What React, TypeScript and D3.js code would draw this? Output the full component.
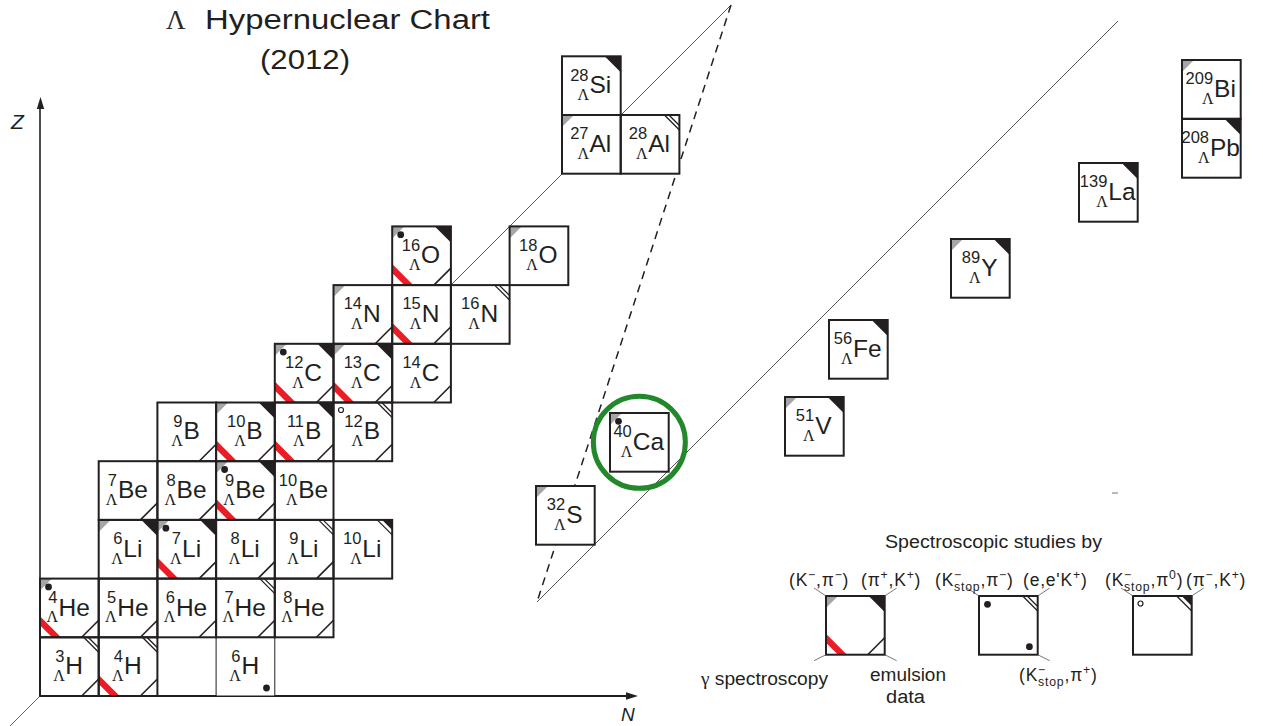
import React from 'react';
import * as d3 from 'd3';

const W = 1263;
const H = 726;
const CELL = 58.7;

// Measurement flags per hypernucleus:
// g (K-,pi-)  k (pi+,K+)  d (K-stop,pi-)  o (K-stop,pi0)  h (e,e'K+)
// m (pi-,K+)  p (K-stop,pi+)  r gamma spectroscopy  e emulsion data  t tentative
// Each entry: [mass number A, element, proton number Z, flags]; core neutrons N = A - 1 - Z
const lightNuclei: [number, string, number, string][] = [
  [3, 'H', 1, 'he'],
  [4, 'H', 1, 'hre'],
  [6, 'H', 1, 'pt'],
  [4, 'He', 2, 'gdre'],
  [5, 'He', 2, 'e'],
  [6, 'He', 2, 'e'],
  [7, 'He', 2, 'he'],
  [8, 'He', 2, 'e'],
  [6, 'Li', 3, 'gk'],
  [7, 'Li', 3, 'gdkre'],
  [8, 'Li', 3, 'e'],
  [9, 'Li', 3, 'he'],
  [10, 'Li', 3, 'm'],
  [7, 'Be', 4, 'e'],
  [8, 'Be', 4, 'e'],
  [9, 'Be', 4, 'gdkre'],
  [10, 'Be', 4, ''],
  [9, 'B', 5, 'e'],
  [10, 'B', 5, 'gkre'],
  [11, 'B', 5, 'kre'],
  [12, 'B', 5, 'ohe'],
  [12, 'C', 6, 'gdkre'],
  [13, 'C', 6, 'gkre'],
  [14, 'C', 6, 'e'],
  [14, 'N', 7, 'ge'],
  [15, 'N', 7, 're'],
  [16, 'N', 7, 'h'],
  [16, 'O', 8, 'gdkre'],
  [18, 'O', 8, 'g'],
];

const sdNuclei: [number, string, number, string][] = [
  [28, 'Si', 14, 'k'],
  [27, 'Al', 13, 'g'],
  [28, 'Al', 13, 'h'],
];

const midNuclei: [number, string, number, string][] = [
  [32, 'S', 16, 'g'],
  [40, 'Ca', 20, 'gd'],
];

const heavyNuclei: [number, string, number, string][] = [
  [51, 'V', 23, 'gk'],
  [56, 'Fe', 26, 'k'],
  [89, 'Y', 39, 'gk'],
  [139, 'La', 57, 'k'],
  [208, 'Pb', 82, 'k'],
  [209, 'Bi', 83, 'g'],
];

const circledNucleus: [number, string] = [40, 'Ca'];

// Legend: three sample boxes and their reaction labels
const legendFlags = ['gkre', 'dhp', 'om'];
type Part = [string, string];
const labelKPiMinus: Part[] = [['n', '(K'], ['sup', '−'], ['n', ',π'], ['sup', '−'], ['n', ')']];
const labelPiPlusK: Part[] = [['n', '(π'], ['sup', '+'], ['n', ',K'], ['sup', '+'], ['n', ')']];
const labelKstopPiMinus: Part[] = [['n', '(K'], ['sup', '−'], ['sub', 'stop'], ['n', ',π'], ['sup', '−'], ['n', ')']];
const labelEEK: Part[] = [['n', "(e,e'K"], ['sup', '+'], ['n', ')']];
const labelKstopPiZero: Part[] = [['n', '(K'], ['sup', '−'], ['sub', 'stop'], ['n', ',π'], ['sup', '0'], ['n', ')']];
const labelPiMinusK: Part[] = [['n', '(π'], ['sup', '−'], ['n', ',K'], ['sup', '+'], ['n', ')']];
const labelKstopPiPlus: Part[] = [['n', '(K'], ['sup', '−'], ['sub', 'stop'], ['n', ',π'], ['sup', '+'], ['n', ')']];

const INK = '#231f20';
const GRAY = '#a6a6a6';
const RED = '#ed1c24';
const SANS = '"Liberation Sans", Arial, Helvetica, sans-serif';
const SERIF = '"Liberation Serif", "Times New Roman", serif';

const widthEm: Record<string, number> = {
  H: 0.722, e: 0.556, L: 0.556, i: 0.222, B: 0.667, C: 0.722, N: 0.722, O: 0.778,
  S: 0.667, A: 0.667, l: 0.222, a: 0.556, F: 0.611, V: 0.667, Y: 0.667, P: 0.667, b: 0.556,
};
const textW = (str: string, size: number) =>
  [...str].reduce((w, c) => w + (widthEm[c] ?? 0.556) * size, 0);

// Main (light) grid: N across, Z up
const xGrid = d3.scaleLinear().domain([1, 2]).range([40, 40 + CELL]);
const yGrid = d3.scaleLinear().domain([0, 1]).range([696, 696 - CELL]);
// Broken-axis segments
const xSd = d3.scaleLinear().domain([13, 14]).range([562, 562 + CELL]);
const ySd = d3.scaleLinear().domain([13, 14]).range([115, 115 - CELL]);
const xMid = d3.scaleLinear().domain([15, 19]).range([536, 610]);
const yMid = d3.scaleLinear().domain([16, 20]).range([486, 413]);
const xHeavy = d3.scaleLinear().domain([27, 29, 49, 81, 125]).range([785, 829, 951, 1079, 1182]);
const yHeavy = d3.scaleLinear().domain([23, 26, 39, 57, 82, 83]).range([397, 320, 239, 163, 119, 60]);

function Marks({ flags, s }: { flags: string; s: number }) {
  const has = (f: string) => flags.includes(f);
  return (
    <g>
      {has('g') && <polygon points={`0,0 12,0 0,12`} fill={GRAY} />}
      {has('k') && <polygon points={`${s - 16},0 ${s},0 ${s},16`} fill={INK} />}
      {has('m') && (
        <g>
          <polygon points={`${s - 10},0 ${s},0 ${s},10`} fill={INK} />
          <line x1={s - 15} y1={0} x2={s} y2={15} stroke={INK} strokeWidth={1.3} />
        </g>
      )}
      {has('h') && (
        <g stroke={INK} strokeWidth={1.3}>
          <line x1={s - 15} y1={0} x2={s} y2={15} />
          <line x1={s - 10.5} y1={0} x2={s} y2={10.5} />
        </g>
      )}
      {has('r') && (
        <polygon points={`0,${s - 21} 0,${s - 12} 12,${s} 21,${s}`} fill={RED} />
      )}
      {has('e') && (
        <line x1={s - 17} y1={s} x2={s} y2={s - 17} stroke={INK} strokeWidth={1.6} />
      )}
      {has('d') && <circle cx={8.5} cy={8.3} r={3.4} fill={INK} />}
      {has('o') && <circle cx={7.5} cy={7.5} r={2.5} fill="#fff" stroke={INK} strokeWidth={1.2} />}
      {has('p') && <circle cx={s - 8.3} cy={s - 8} r={3.4} fill={INK} />}
    </g>
  );
}

function CellBody({ x, y, A, sym, flags }: { x: number; y: number; A: number; sym: string; flags: string }) {
  const s = CELL;
  const EL = 24.5, SUP = 16.5, LAM = 16;
  const numW = textW(String(A), SUP);
  const lamW = 0.62 * LAM;
  const pre = Math.max(numW, lamW);
  const elW = textW(sym, EL);
  const total = pre + 1.5 + elW;
  const ex = s * 0.485 - total / 2 + pre + 1.5;
  return (
    <g transform={`translate(${x},${y})`}>
      <rect width={s} height={s} fill="#fff" />
      <Marks flags={flags} s={s} />
      <text x={ex} y={s * 0.63} fontSize={EL} fontFamily={SANS} fill={INK}>{sym}</text>
      <text x={ex - 1} y={s * 0.415} fontSize={SUP} fontFamily={SANS} fill={INK} textAnchor="end">{A}</text>
      <text x={ex - 0.5} y={s * 0.745} fontSize={LAM} fontFamily={SERIF} fill="#222" textAnchor="end">Λ</text>
    </g>
  );
}

function CellBorder({ x, y, thin }: { x: number; y: number; thin: boolean }) {
  return (
    <rect x={x} y={y} width={CELL} height={CELL} fill="none" stroke={INK} strokeWidth={thin ? 1 : 2} />
  );
}

function Rich({ x, y, parts, size, spacing }: { x: number; y: number; parts: Part[]; size: number; spacing: number }) {
  const small = size * 0.7;
  let shift = 0;
  let lastSupW = 0;
  const spans = parts.map(([kind, t], i) => {
    const target = kind === 'sup' ? -0.38 * size : kind === 'sub' ? 0.3 * size : 0;
    const dy = target - shift;
    shift = target;
    let dx = 0;
    if (kind === 'sub' && i > 0 && parts[i - 1][0] === 'sup') dx = -lastSupW;
    if (kind === 'sup') lastSupW = 0.584 * small + spacing;
    return (
      <tspan key={i} dx={dx || undefined} dy={dy || undefined} fontSize={kind === 'n' ? size : small}>
        {t}
      </tspan>
    );
  });
  return (
    <text x={x} y={y} fontSize={size} fontFamily={SANS} fill={INK} letterSpacing={spacing}>
      {spans}
    </text>
  );
}

type Placed = { key: string; x: number; y: number; A: number; sym: string; flags: string };

export default function App() {
  const placed: Placed[] = [];
  lightNuclei.forEach(([A, sym, Z, flags]) => {
    const N = A - 1 - Z;
    placed.push({ key: `${A}${sym}`, x: xGrid(N), y: yGrid(Z), A, sym, flags });
  });
  sdNuclei.forEach(([A, sym, Z, flags]) => {
    const N = A - 1 - Z;
    placed.push({ key: `${A}${sym}`, x: xSd(N), y: ySd(Z), A, sym, flags });
  });
  midNuclei.forEach(([A, sym, Z, flags]) => {
    const N = A - 1 - Z;
    placed.push({ key: `${A}${sym}`, x: xMid(N), y: yMid(Z), A, sym, flags });
  });
  heavyNuclei.forEach(([A, sym, Z, flags]) => {
    const N = A - 1 - Z;
    placed.push({ key: `${A}${sym}`, x: xHeavy(N), y: yHeavy(Z), A, sym, flags });
  });

  const circled = placed.find((p) => p.A === circledNucleus[0] && p.sym === circledNucleus[1])!;

  // Guide lines across the broken axis
  const lineStart: [number, number] = [xGrid(8), yGrid(7)];
  const breakTop: [number, number] = [731, 5];
  const breakBottom: [number, number] = [537, 602];
  const lineEnd: [number, number] = [1118, 21];

  // Legend layout
  const lgY = 596;
  const lgX = [826, 979, 1133];
  const s = CELL;
  const leader = (x1: number, y1: number, dx: number, dy: number) => (
    <line x1={x1} y1={y1} x2={x1 + dx} y2={y1 + dy} stroke="#555" strokeWidth={0.8} />
  );

  return (
    <svg
      width={W}
      height={H}
      viewBox={`0 0 ${W} ${H}`}
      style={{ position: 'absolute', left: 0, top: 0, background: '#fff', display: 'block' }}
    >
      {/* title */}
      <text x={166} y={29} fontSize={27} fontFamily={SERIF} fill="#2a2a2a">Λ</text>
      <text x={205} y={29} fontSize={27} fontFamily={SANS} fill={INK} textLength={285} lengthAdjust="spacingAndGlyphs">Hypernuclear Chart</text>
      <text x={260} y={69} fontSize={27} fontFamily={SANS} fill={INK} textLength={90} lengthAdjust="spacingAndGlyphs">(2012)</text>

      {/* axes */}
      <line x1={40} y1={696} x2={10} y2={726} stroke="#666" strokeWidth={1} />
      <line x1={40} y1={697} x2={40} y2={106} stroke={INK} strokeWidth={1.6} />
      <polygon points="40.5,97 36.8,109 44.2,109" fill={INK} />
      <line x1={39} y1={696} x2={630} y2={696} stroke={INK} strokeWidth={1.8} />
      <polygon points="638,696 626,692.3 626,699.7" fill={INK} />
      <text x={11} y={129} fontSize={21} fontStyle="italic" fontFamily={SANS} fill={INK}>Z</text>
      <text x={621} y={721} fontSize={19} fontStyle="italic" fontFamily={SANS} fill={INK}>N</text>

      {/* guide lines */}
      <line x1={lineStart[0]} y1={lineStart[1]} x2={breakTop[0]} y2={breakTop[1]} stroke="#555" strokeWidth={1} />
      <line x1={breakTop[0]} y1={breakTop[1]} x2={breakBottom[0]} y2={breakBottom[1]} stroke={INK} strokeWidth={1.5} strokeDasharray="8,6" />
      <line x1={breakBottom[0]} y1={breakBottom[1]} x2={lineEnd[0]} y2={lineEnd[1]} stroke="#555" strokeWidth={1} />
      <line x1={1112} y1={493} x2={1118} y2={493} stroke="#777" strokeWidth={1} />

      {/* nuclide boxes */}
      <g>
        {placed.map((p) => (
          <CellBody key={p.key} x={p.x} y={p.y} A={p.A} sym={p.sym} flags={p.flags} />
        ))}
      </g>
      <g>
        {placed
          .slice()
          .sort((a, b) => Number(b.flags.includes('t')) - Number(a.flags.includes('t')))
          .map((p) => (
            <CellBorder key={p.key} x={p.x} y={p.y} thin={p.flags.includes('t')} />
          ))}
      </g>

      {/* highlighted hypernucleus */}
      <circle cx={circled.x + CELL / 2} cy={circled.y + CELL / 2} r={46} fill="none" stroke="#23882b" strokeWidth={5} />

      {/* legend */}
      <text x={885} y={548} fontSize={18} fontFamily={SANS} fill={INK} textLength={217} lengthAdjust="spacingAndGlyphs">Spectroscopic studies by</text>
      {legendFlags.map((f, i) => (
        <g key={i} transform={`translate(${lgX[i]},${lgY})`}>
          <rect width={s} height={s} fill="#fff" />
          <Marks flags={f} s={s} />
          <rect width={s} height={s} fill="none" stroke={INK} strokeWidth={2} />
        </g>
      ))}
      {leader(lgX[0], lgY, -12, -8)}
      {leader(lgX[0] + s, lgY, 12, -8)}
      {leader(lgX[0], lgY + s, -12, 6)}
      {leader(lgX[0] + s, lgY + s, 12, 6)}
      {leader(lgX[1], lgY, -12, -8)}
      {leader(lgX[1] + s, lgY, 12, -8)}
      {leader(lgX[1] + s, lgY + s, 12, 6)}
      {leader(lgX[2], lgY, -12, -8)}
      {leader(lgX[2] + s, lgY, 12, -8)}

      <Rich x={789} y={586} parts={labelKPiMinus} size={17.5} spacing={0.8} />
      <Rich x={861} y={586} parts={labelPiPlusK} size={17.5} spacing={0.8} />
      <Rich x={935} y={586} parts={labelKstopPiMinus} size={17.5} spacing={0.8} />
      <Rich x={1023} y={586} parts={labelEEK} size={17.5} spacing={0.8} />
      <Rich x={1105} y={586} parts={labelKstopPiZero} size={17.5} spacing={0.8} />
      <Rich x={1186} y={586} parts={labelPiMinusK} size={17.5} spacing={0.8} />
      <Rich x={1019} y={681} parts={labelKstopPiPlus} size={17.5} spacing={0.8} />

      <text x={701} y={685} fontSize={18} fontFamily={SANS} fill={INK} textLength={127} lengthAdjust="spacingAndGlyphs">
        <tspan fontFamily={SERIF}>γ</tspan> spectroscopy
      </text>
      <text x={870} y={681} fontSize={18} fontFamily={SANS} fill={INK} textLength={76} lengthAdjust="spacingAndGlyphs">emulsion</text>
      <text x={886} y={703} fontSize={18} fontFamily={SANS} fill={INK} textLength={39} lengthAdjust="spacingAndGlyphs">data</text>
    </svg>
  );
}
